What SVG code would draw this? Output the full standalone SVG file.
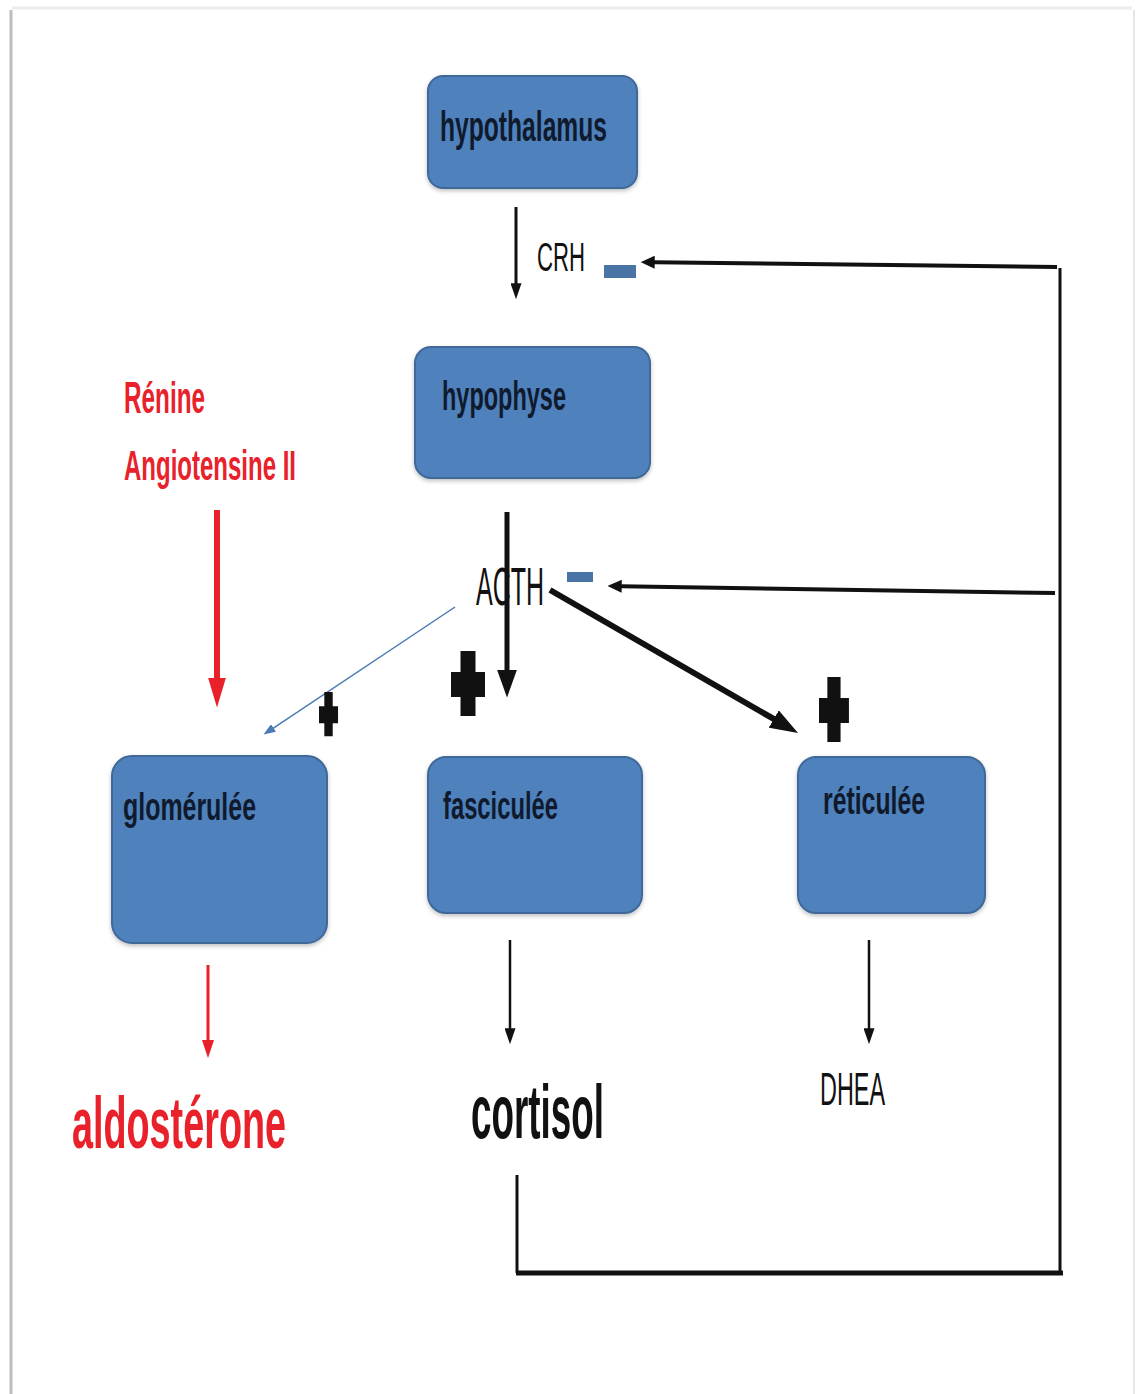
<svg xmlns="http://www.w3.org/2000/svg" width="1136" height="1394" viewBox="0 0 1136 1394">
<style>
.box{fill:#4f81bd;stroke:#3f6898;stroke-width:2}
.lbl{font-family:"Liberation Sans","Open Sans",sans-serif;fill:#0f1b2d;font-weight:bold}
.blk{font-family:"Liberation Sans","Open Sans",sans-serif;fill:#111}
.red{font-family:"Liberation Sans","Open Sans",sans-serif;fill:#e8212a;font-weight:bold}
.ln{stroke:#111;fill:none}
.rl{stroke:#e8212a;fill:none}
.minus{fill:#4a73a6}
</style>
<defs>
<filter id="sh" x="-10%" y="-10%" width="120%" height="130%">
<feDropShadow dx="0" dy="2" stdDeviation="2" flood-color="#000" flood-opacity="0.25"/>
</filter>
<marker id="mBlkS" viewBox="0 0 10 10" refX="0.5" refY="5" markerUnits="userSpaceOnUse" markerWidth="16" markerHeight="11" orient="auto" preserveAspectRatio="none"><path d="M0,0 L10,5 L0,10 z" fill="#111"/></marker>
<marker id="mBlkF" viewBox="0 0 10 10" refX="0.5" refY="5" markerUnits="userSpaceOnUse" markerWidth="14" markerHeight="13" orient="auto" preserveAspectRatio="none"><path d="M0,0 L10,5 L0,10 z" fill="#111"/></marker>
<marker id="mBlkL" viewBox="0 0 10 10" refX="0.5" refY="5" markerUnits="userSpaceOnUse" markerWidth="28" markerHeight="20" orient="auto" preserveAspectRatio="none"><path d="M0,0 L10,5 L0,10 z" fill="#111"/></marker>
<marker id="mRedL" viewBox="0 0 10 10" refX="0.5" refY="5" markerUnits="userSpaceOnUse" markerWidth="30" markerHeight="18" orient="auto" preserveAspectRatio="none"><path d="M0,0 L10,5 L0,10 z" fill="#e8212a"/></marker>
<marker id="mRedS" viewBox="0 0 10 10" refX="0.5" refY="5" markerUnits="userSpaceOnUse" markerWidth="18" markerHeight="12" orient="auto" preserveAspectRatio="none"><path d="M0,0 L10,5 L0,10 z" fill="#e8212a"/></marker>
<marker id="mBlue" viewBox="0 0 10 10" refX="0.5" refY="5" markerUnits="userSpaceOnUse" markerWidth="12" markerHeight="9" orient="auto" preserveAspectRatio="none"><path d="M0,0 L10,5 L0,10 z" fill="#4a7ab5"/></marker>
<path id="plus" d="M9.5,0 H24.5 V21 H34 V46 H24.5 V65 H9.5 V46 H0 V21 H9.5 Z" fill="#111"/>
</defs>

<rect x="0" y="0" width="1136" height="1394" fill="#fff"/>
<g id="page">
<line x1="12" y1="8" x2="1132" y2="8" stroke="#ececec" stroke-width="3"/>
<line x1="11" y1="10" x2="11" y2="1394" stroke="#bdbdbd" stroke-width="3"/>
<line x1="1134" y1="10" x2="1134" y2="1394" stroke="#e6e6e6" stroke-width="2"/>
</g>

<g id="connectors">
<line class="ln" x1="516" y1="207" x2="516" y2="284" stroke-width="3" marker-end="url(#mBlkS)"/>
<line class="ln" x1="1057" y1="267" x2="654" y2="262.2" stroke-width="4" marker-end="url(#mBlkF)"/>
<line class="ln" x1="507" y1="512" x2="507" y2="671" stroke-width="5" marker-end="url(#mBlkL)"/>
<line class="ln" x1="1055" y1="593" x2="621" y2="586.2" stroke-width="4" marker-end="url(#mBlkF)"/>
<line class="ln" x1="550" y1="590" x2="775" y2="719.7" stroke-width="6" marker-end="url(#mBlkL)"/>
<line x1="455" y1="607" x2="273" y2="728.3" stroke="#4a7ab5" stroke-width="1.5" marker-end="url(#mBlue)"/>
<line class="rl" x1="217" y1="510" x2="217" y2="679" stroke-width="6" marker-end="url(#mRedL)"/>
<line class="rl" x1="208" y1="965" x2="208" y2="1041" stroke-width="3" marker-end="url(#mRedS)"/>
<line class="ln" x1="510" y1="940" x2="510" y2="1029" stroke-width="2.5" marker-end="url(#mBlkS)"/>
<line class="ln" x1="869" y1="940" x2="869" y2="1029" stroke-width="2.5" marker-end="url(#mBlkS)"/>
<polyline class="ln" points="517,1175 517,1273" stroke-width="3"/>
<line class="ln" x1="516" y1="1273" x2="1063" y2="1273" stroke-width="5"/>
<line class="ln" x1="1060" y1="268" x2="1060" y2="1275" stroke-width="3"/>
</g>

<g id="hypothalamus">
<rect class="box" x="428" y="76" width="209" height="112" rx="15" filter="url(#sh)"/>
<text class="lbl" x="440" y="141" font-size="42" textLength="167" lengthAdjust="spacingAndGlyphs">hypothalamus</text>
</g>
<g id="crh">
<text class="blk" x="537" y="271" font-size="41" textLength="48" lengthAdjust="spacingAndGlyphs">CRH</text>
<rect class="minus" x="604" y="265" width="32" height="13"/>
</g>
<g id="hypophyse">
<rect class="box" x="415" y="347" width="235" height="131" rx="16" filter="url(#sh)"/>
<text class="lbl" x="442" y="410" font-size="41" textLength="124" lengthAdjust="spacingAndGlyphs">hypophyse</text>
</g>
<g id="renine">
<text class="red" x="124" y="413" font-size="44" textLength="81" lengthAdjust="spacingAndGlyphs">Rénine</text>
<text class="red" x="124" y="480" font-size="42" textLength="172" lengthAdjust="spacingAndGlyphs">Angiotensine II</text>
</g>
<g id="acth">
<text class="blk" x="476" y="605" font-size="54" textLength="68" lengthAdjust="spacingAndGlyphs">ACTH</text>
<rect class="minus" x="567" y="572" width="26" height="10"/>
</g>
<g id="plus-signs">
<use href="#plus" transform="translate(451,651)"/>
<use href="#plus" transform="translate(819,677) scale(0.88,1)"/>
<use href="#plus" transform="translate(319,692) scale(0.56,0.68)"/>
</g>
<g id="glomerulee">
<rect class="box" x="112" y="756" width="215" height="187" rx="20" filter="url(#sh)"/>
<text class="lbl" x="123" y="820" font-size="39" textLength="133" lengthAdjust="spacingAndGlyphs">glomérulée</text>
</g>
<g id="fasciculee">
<rect class="box" x="428" y="757" width="214" height="156" rx="18" filter="url(#sh)"/>
<text class="lbl" x="443" y="819" font-size="39" textLength="115" lengthAdjust="spacingAndGlyphs">fasciculée</text>
</g>
<g id="reticulee">
<rect class="box" x="798" y="757" width="187" height="156" rx="18" filter="url(#sh)"/>
<text class="lbl" x="823" y="814" font-size="39" textLength="102" lengthAdjust="spacingAndGlyphs">réticulée</text>
</g>
<g id="aldosterone">
<text class="red" x="72" y="1148" font-size="72" textLength="214" lengthAdjust="spacingAndGlyphs">aldostérone</text>
</g>
<g id="cortisol">
<text class="blk" x="471" y="1138" font-size="76" font-weight="bold" textLength="133" lengthAdjust="spacingAndGlyphs">cortisol</text>
</g>
<g id="dhea">
<text class="blk" x="820" y="1105" font-size="46" textLength="65" lengthAdjust="spacingAndGlyphs">DHEA</text>
</g>
</svg>
